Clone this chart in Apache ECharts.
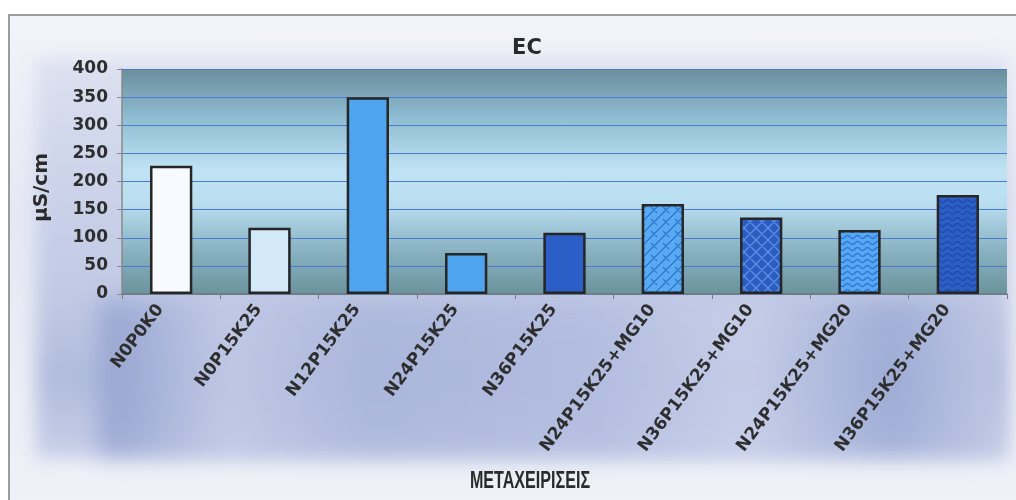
<!DOCTYPE html>
<html>
<head>
<meta charset="utf-8">
<script src="https://cdn.jsdelivr.net/npm/echarts@6/dist/echarts.min.js"></script>
<style>
  html, body { margin: 0; padding: 0; background: #ffffff; }
  #wrap { position: relative; width: 1016px; height: 500px; overflow: hidden; background: #ffffff; }
  #frame { position: absolute; left: 8px; top: 14px; width: 1020px; height: 500px;
           border-left: 2px solid #9c9c9c; border-top: 2px solid #9c9c9c;
           background: linear-gradient(#f3f4fa, #e6e9f4 40%, #f0f2f8); }
  #glow { position: absolute; left: 36px; top: 58px; width: 972px; height: 400px;
          background: linear-gradient(to bottom, #dde1f0 0%, #ccd3ea 30%, #c0c9e4 60%, #b0bbdd 80%, #c8cfe8 100%);
          filter: blur(9px); }
  #band { position: absolute; left: 100px; top: 300px; width: 900px; height: 155px;
          background: linear-gradient(to right, #8d9dcd 0%, #c2cae6 14%, #a9b5db 30%, #b3bde0 55%, #c9d0ea 72%, #9aa9d4 88%, #c0c8e5 100%);
          filter: blur(12px); opacity: 0.8; }
  #chart { position: absolute; left: 0; top: 0; width: 1016px; height: 500px; }
</style>
</head>
<body>
<div id="wrap">
  <div id="frame"></div>
  <div id="glow"></div>
  <div id="band"></div>
  <div id="chart"></div>
</div>
<script>
// ---- data ----
const categories = ['N0P0K0', 'N0P15K25', 'N12P15K25', 'N24P15K25', 'N36P15K25',
                    'N24P15K25+MG10', 'N36P15K25+MG10', 'N24P15K25+MG20', 'N36P15K25+MG20'];
const ecValues = [228, 118, 350, 73, 109, 160, 136, 114, 176];
const yTicks = [0, 50, 100, 150, 200, 250, 300, 350, 400];
const titleText = 'EC';
const yAxisTitle = 'μS/cm';
const xAxisTitle = 'ΜΕΤΑΧΕΙΡΙΣΕΙΣ';

// ---- fills (style) ----
function makePattern(bg, fg, type) {
  const c = document.createElement('canvas');
  let w = 12, h = 12;
  if (type === 'wave') { w = 10; h = 6; }
  c.width = w; c.height = h;
  const g = c.getContext('2d');
  g.fillStyle = bg; g.fillRect(0, 0, w, h);
  g.strokeStyle = fg; g.lineWidth = 1.4;
  if (type === 'brick') {
    g.beginPath();
    for (let k = -1; k <= 1; k++) {
      g.moveTo(k * 12, 12); g.lineTo(k * 12 + 12, 0);
    }
    g.moveTo(3, 3); g.lineTo(9, 9);
    g.moveTo(-3, 9); g.lineTo(3, 15);
    g.moveTo(9, -3); g.lineTo(15, 3);
    g.stroke();
  } else if (type === 'lattice') {
    g.beginPath();
    for (let k = -1; k <= 1; k++) {
      g.moveTo(k * 12, 12); g.lineTo(k * 12 + 12, 0);
      g.moveTo(k * 12, 0); g.lineTo(k * 12 + 12, 12);
    }
    g.stroke();
  } else if (type === 'wave') {
    g.beginPath();
    for (let x = 0; x <= w; x += 0.5) {
      const y = 3 + 1.5 * Math.sin(x / w * Math.PI * 2);
      if (x === 0) g.moveTo(x, y); else g.lineTo(x, y);
    }
    g.stroke();
  }
  return { image: c, repeat: 'repeat' };
}

const barFills = [
  '#f7faff',
  '#d3e9fa',
  '#4ea4ee',
  '#4ea4ee',
  '#2b5ec6',
  makePattern('#58aaf2', '#2f78d2', 'brick'),
  makePattern('#2a5cc2', '#5b8fe2', 'lattice'),
  makePattern('#56a8f2', '#2e76d6', 'wave'),
  makePattern('#2c5fc6', '#1f4aa8', 'wave')
];

const FONT = '"DejaVu Sans", "Liberation Sans", Arial, sans-serif';
const chart = echarts.init(document.getElementById('chart'), null, { renderer: 'canvas' });

chart.setOption({
  backgroundColor: 'transparent',
  animation: false,
  title: {
    text: titleText, left: 522, top: 33, textAlign: 'center',
    textStyle: { fontFamily: FONT, fontWeight: 'bold', fontSize: 21, color: '#2a2a2a' }
  },
  grid: {
    left: 122, right: 9, top: 69, bottom: 206, show: true, borderWidth: 0,
    backgroundColor: {
      type: 'linear', x: 0, y: 0, x2: 0, y2: 1,
      colorStops: [
        { offset: 0, color: '#6a8f9e' },
        { offset: 0.22, color: '#8fbdd2' },
        { offset: 0.45, color: '#bfe3f4' },
        { offset: 0.6, color: '#b9deef' },
        { offset: 0.8, color: '#8ab3c3' },
        { offset: 1, color: '#6b939d' }
      ]
    }
  },
  xAxis: {
    type: 'category',
    data: categories,
    axisLine: { lineStyle: { color: '#7a7a7a', width: 1.5 } },
    axisTick: { show: true, length: 5, alignWithLabel: false, lineStyle: { color: '#7a7a7a' } },
    axisLabel: {
      rotate: 53, interval: 0, margin: -2,
      fontFamily: FONT, fontWeight: 'bold', fontSize: 17, color: '#2e2e2e',
      padding: [0, 18, 0, 0]
    }
  },
  yAxis: {
    type: 'value', min: 0, max: 400, interval: 50,
    name: yAxisTitle, nameLocation: 'middle', nameGap: 70, nameRotate: 90,
    nameTextStyle: { fontFamily: FONT, fontWeight: 'bold', fontSize: 20, color: '#2a2a2a', padding: [0, 12, 0, 0] },
    axisLine: { show: true, lineStyle: { color: '#8a8a8a', width: 1.5 } },
    axisTick: { show: true, length: 5, lineStyle: { color: '#8a8a8a' } },
    axisLabel: {
      margin: 14, fontFamily: FONT, fontWeight: 'bold', fontSize: 17, color: '#2e2e2e',
      formatter: function (v) { return yTicks.indexOf(v) >= 0 ? String(v) : ''; }
    },
    splitLine: { show: true, lineStyle: { color: '#4a7ad2', width: 1 } }
  },
  graphic: [
    {
      type: 'text', x: 530, y: 482, scaleX: 0.7,
      style: {
        text: xAxisTitle, textAlign: 'center', textVerticalAlign: 'middle',
        font: 'bold 23px "Liberation Sans", Arial, sans-serif', fill: '#2a2a2a'
      }
    }
  ],
  series: [{
    type: 'bar',
    barWidth: '43%',
    data: ecValues.map(function (v, i) {
      return { value: v, itemStyle: { color: barFills[i], borderColor: '#262626', borderWidth: 2.5 } };
    })
  }]
});
</script>
</body>
</html>
